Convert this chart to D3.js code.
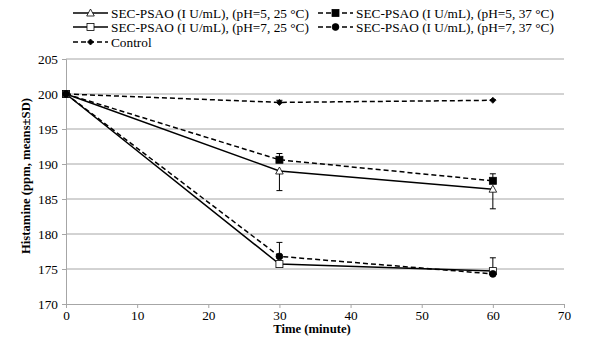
<!DOCTYPE html>
<html>
<head>
<meta charset="utf-8">
<script src="https://cdn.jsdelivr.net/npm/d3@7"></script>
<style>
  body { margin: 0; background: #fff; }
  svg text { font-family: "Liberation Serif", "DejaVu Serif", "Times New Roman", serif !important; fill: #000; }
</style>
</head>
<body>
<div id="chart"></div>
<script>
/**
 * Data
 */
var times = [0, 30, 60];
var xTicks = [0, 10, 20, 30, 40, 50, 60, 70];
var yTicks = [170, 175, 180, 185, 190, 195, 200, 205];

var labels = [
	"SEC-PSAO (I U/mL), (pH=5, 25 °C)",
	"SEC-PSAO (I U/mL), (pH=5, 37 °C)",
	"SEC-PSAO (I U/mL), (pH=7, 25 °C)",
	"SEC-PSAO (I U/mL), (pH=7, 37 °C)",
	"Control"
];
var ph5t25 = [200, 189.0, 186.4];
var ph5t37 = [200, 190.6, 187.6];
var ph7t25 = [200, 175.7, 174.7];
var ph7t37 = [200, 176.8, 174.3];
var control = [200, 198.8, 199.1];

var sd5t25 = [0, 2.8, 2.8];
var sd5t37 = [0, 0.9, 1.0];
var sd7t25 = [0, 0.2, 0.2];
var sd7t37 = [0, 2.0, 2.3];
var sdControl = [0, 0.3, 0.1];

var SERIF = "'Liberation Serif', 'DejaVu Serif', serif";

// marker, dashed, error bar direction (+1 up, -1 down)
var series = [
	{ name: labels[0], values: ph5t25, sd: sd5t25, marker: "triangle", fill: "#fff", dash: false, dir: -1 },
	{ name: labels[1], values: ph5t37, sd: sd5t37, marker: "square", fill: "#000", dash: true, dir: 1 },
	{ name: labels[2], values: ph7t25, sd: sd7t25, marker: "square", fill: "#fff", dash: false, dir: -1 },
	{ name: labels[3], values: ph7t37, sd: sd7t37, marker: "circle", fill: "#000", dash: true, dir: 1 },
	{ name: labels[4], values: control, sd: sdControl, marker: "diamond", fill: "#000", dash: true, dir: 1 }
];

var margin = {top: 59, right: 37, bottom: 42, left: 66};
var _width = 601 - margin.left - margin.right;
var _height = 346 - margin.top - margin.bottom;

var svg = d3.select("#chart").append("svg")
	.attr("width", 601)
	.attr("height", 346)
	.attr("font-family", SERIF);

var g = svg.append("g")
	.attr("transform", "translate(" + margin.left + "," + margin.top + ")");

var x = d3.scaleLinear().domain([0, 70]).range([0, _width]);
var y = d3.scaleLinear().domain([170, 205]).range([_height, 0]);

/**
 * Gridlines
 */
g.append("g").selectAll("line")
	.data(yTicks.slice(1))
	.enter().append("line")
	.attr("x1", 0).attr("x2", _width)
	.attr("y1", function(d) { return y(d); })
	.attr("y2", function(d) { return y(d); })
	.attr("stroke", "#a6a6a6").attr("stroke-width", 1);

/**
 * Axes
 */
var xAxis = g.append("g")
	.attr("transform", "translate(0," + _height + ")")
	.call(d3.axisBottom(x).tickValues(xTicks).tickSize(4).tickPadding(3));
var yAxis = g.append("g")
	.call(d3.axisLeft(y).tickValues(yTicks).tickSize(4).tickPadding(4));

[xAxis, yAxis].forEach(function(a) {
	a.attr("font-family", SERIF).attr("font-size", 13.3);
	a.select(".domain").attr("stroke", "#a6a6a6");
	a.selectAll(".tick line").attr("stroke", "#a6a6a6");
	a.selectAll(".tick text").attr("fill", "#000");
});

svg.append("text")
	.attr("x", margin.left + x(35) - 3).attr("y", 333)
	.attr("text-anchor", "middle")
	.attr("font-size", 12.7).attr("font-weight", "bold")
	.text("Time (minute)");

svg.append("text")
	.attr("transform", "translate(30,176) rotate(-90)")
	.attr("text-anchor", "middle")
	.attr("font-size", 12.7).attr("font-weight", "bold")
	.text("Histamine (ppm, means±SD)");

/**
 * Draws a marker of a given type centred on (cx, cy)
 */
function drawMarker(sel, s, cx, cy) {
	var m;
	if (s.marker == "triangle") {
		m = sel.append("path").attr("d", "M" + cx + "," + (cy - 4) + "L" + (cx + 3.8) + "," + (cy + 3) + "L" + (cx - 3.8) + "," + (cy + 3) + "Z");
	} else if (s.marker == "square") {
		m = sel.append("rect").attr("x", cx - 3.5).attr("y", cy - 3.5).attr("width", 7).attr("height", 7);
	} else if (s.marker == "circle") {
		m = sel.append("circle").attr("cx", cx).attr("cy", cy).attr("r", 3.4);
	} else {
		m = sel.append("path").attr("d", "M" + cx + "," + (cy - 3) + "L" + (cx + 3) + "," + cy + "L" + cx + "," + (cy + 3) + "L" + (cx - 3) + "," + cy + "Z");
	}
	m.attr("fill", s.fill).attr("stroke", "#000").attr("stroke-width", 0.8);
}

var line = d3.line()
	.x(function(d, i) { return x(times[i]); })
	.y(function(d) { return y(d); });

/**
 * Error bars, lines, markers
 */
series.forEach(function(s) {
	var eb = g.append("g").attr("stroke", "#000").attr("stroke-width", 1);
	s.values.forEach(function(v, i) {
		if (s.sd[i] <= 0) return;
		var x0 = x(times[i]), y0 = y(v), y1 = y(v + s.dir * s.sd[i]);
		eb.append("line").attr("x1", x0).attr("x2", x0).attr("y1", y0).attr("y2", y1);
		eb.append("line").attr("x1", x0 - 3).attr("x2", x0 + 3).attr("y1", y1).attr("y2", y1);
	});
	g.append("path")
		.datum(s.values)
		.attr("d", line)
		.attr("fill", "none")
		.attr("stroke", "#000")
		.attr("stroke-width", 1.5)
		.attr("stroke-dasharray", s.dash ? "5,3" : null);
});
series.forEach(function(s) {
	var mg = g.append("g");
	s.values.forEach(function(v, i) {
		drawMarker(mg, s, x(times[i]), y(v));
	});
});

/**
 * Legend
 */
var legendPos = [[73, 13], [318, 13], [73, 27], [318, 27], [73, 42]];
series.forEach(function(s, i) {
	var lg = svg.append("g")
		.attr("transform", "translate(" + legendPos[i][0] + "," + legendPos[i][1] + ")");
	lg.append("line")
		.attr("x1", 0).attr("x2", 35).attr("y1", 0).attr("y2", 0)
		.attr("stroke", "#000").attr("stroke-width", 1.5)
		.attr("stroke-dasharray", s.dash ? "5,3" : null);
	drawMarker(lg, s, 17.5, 0);
	lg.append("text")
		.attr("x", 38).attr("y", 4.5)
		.attr("font-size", 13.3)
		.text(s.name);
});
</script>
</body>
</html>
